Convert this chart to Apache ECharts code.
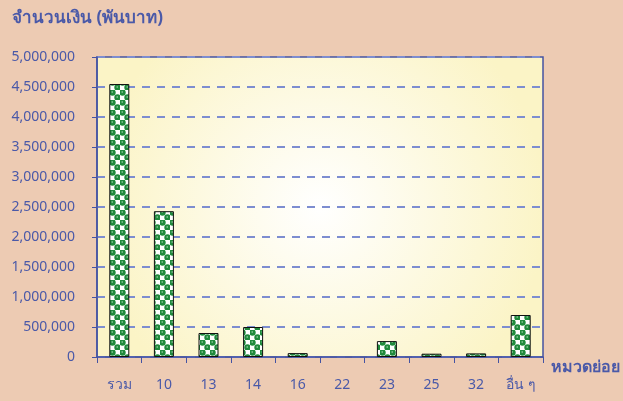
<!DOCTYPE html>
<html>
<head>
<meta charset="utf-8">
<script src="https://cdn.jsdelivr.net/npm/echarts@6/dist/echarts.min.js"></script>
<style>
  html, body { margin: 0; padding: 0; background: #EDCBB3; }
  #chart { width: 623px; height: 401px; }
</style>
</head>
<body>
<div id="chart"></div>
<script>
// หมวดย่อย
const categories = ['รวม', '10', '13', '14', '16', '22', '23', '25', '32', 'อื่น ๆ']
// จำนวนเงิน (พันบาท)
const amounts = [4550000, 2430000, 400000, 500000, 65000, 0, 265000, 55000, 60000, 700000]
const yMax = 5000000
const yStep = 500000

// green/white check pattern for the bars
const pat = document.createElement('canvas')
pat.width = 10
pat.height = 10
const pc = pat.getContext('2d')
pc.fillStyle = '#ffffff'
pc.fillRect(0, 0, 10, 10)
pc.fillStyle = '#1f8a3c'
pc.beginPath(); pc.arc(2.5, 2.5, 3.2, 0, Math.PI * 2); pc.fill()
pc.beginPath(); pc.arc(7.5, 7.5, 3.2, 0, Math.PI * 2); pc.fill()
pc.fillStyle = '#ffffff'
pc.fillRect(6.3, 1.3, 2.4, 2.4)
pc.fillRect(1.3, 6.3, 2.4, 2.4)
pc.fillStyle = '#b9dcc2'
pc.fillRect(1.5, 1.5, 1.5, 1)
pc.fillRect(6.5, 6.5, 1.5, 1)

const barData = amounts.map(v => v === 0 ? { value: v, itemStyle: { borderWidth: 0 } } : v)

const blue = '#4453a3'
const txt = '#4a59a8'
let myChart = echarts.init(document.getElementById('chart'))
let option = {
    backgroundColor: '#EDCBB3',
    title: {
        text: 'จำนวนเงิน (พันบาท)',
        left: 7,
        top: 5,
        textStyle: { color: txt, fontSize: 17, fontWeight: 'bold', fontFamily: 'Noto Sans' }
    },
    grid: {
        left: 97,
        right: 78,
        top: 57,
        bottom: 44,
        show: true,
        borderColor: blue,
        borderWidth: 1.5,
        backgroundColor: {
            type: 'radial', x: 0.5, y: 0.5, r: 0.75,
            colorStops: [
                { offset: 0, color: '#ffffff' },
                { offset: 1, color: '#fbf4c6' }
            ]
        }
    },
    xAxis: {
        type: 'category',
        data: categories,
        name: 'หมวดย่อย',
        nameLocation: 'end',
        nameGap: 8,
        nameTextStyle: { color: txt, fontSize: 16, fontWeight: 'bold', fontFamily: 'Noto Sans', verticalAlign: 'top', padding: [2, 0, 0, 0] },
        axisLine: { lineStyle: { color: blue, width: 1.5 } },
        axisTick: { show: true, length: 6, alignWithLabel: false, lineStyle: { color: blue } },
        axisLabel: { color: txt, fontSize: 14, margin: 21, fontFamily: 'Noto Sans' }
    },
    yAxis: {
        type: 'value',
        min: 0,
        max: yMax,
        interval: yStep,
        axisLine: { show: true, lineStyle: { color: blue, width: 1.5 } },
        axisTick: { show: true, length: 5, lineStyle: { color: blue } },
        axisLabel: {
            color: txt, fontSize: 14, margin: 22, fontFamily: 'Noto Sans',
            formatter: v => v.toLocaleString('en-US')
        },
        splitLine: { show: true, lineStyle: { color: '#7d8dd0', type: [8, 7], width: 2 } }
    },
    series: [{
        type: 'bar',
        data: barData,
        barWidth: 20,
        itemStyle: {
            color: { image: pat, repeat: 'repeat' },
            borderColor: '#111111',
            borderWidth: 1
        }
    }]
}
myChart.setOption(option)
</script>
</body>
</html>
